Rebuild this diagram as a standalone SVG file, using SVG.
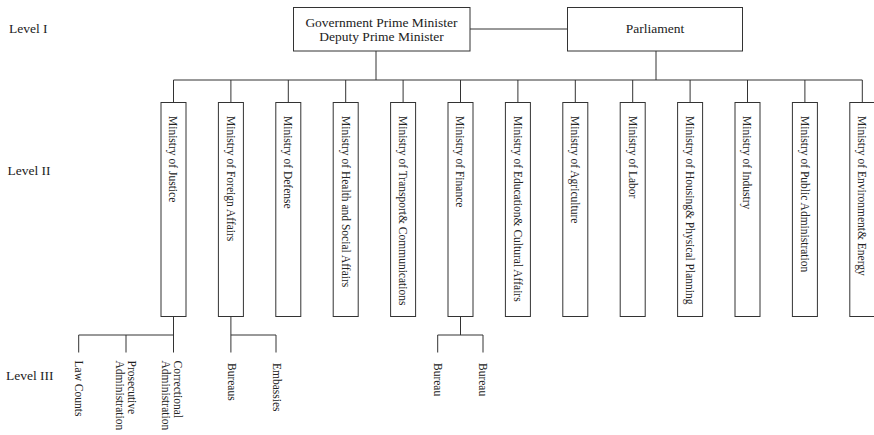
<svg xmlns="http://www.w3.org/2000/svg" width="874" height="435" viewBox="0 0 874 435">
  <style>
    .box { fill: #ffffff; stroke: #333333; stroke-width: 1; }
    .wire { fill: none; stroke: #333333; stroke-width: 1; }
    .t { font-family: "Liberation Serif", "Times New Roman", serif; fill: #222222; }
    .head { font-size: 13.5px; }
    .lvl { font-size: 13.5px; }
    .v { font-size: 11.5px; }
  </style>
  <rect width="874" height="435" fill="#ffffff"/>

  <!-- level captions -->
  <g id="levels">
    <text class="t lvl" x="9" y="33">Level I</text>
    <text class="t lvl" x="7.5" y="175">Level II</text>
    <text class="t lvl" x="6" y="380">Level III</text>
  </g>

  <!-- connectors -->
  <g id="connectors" class="wire">
    <path d="M470 29H567.5"/>
    <path d="M376 51V80M656 51V80"/>
    <path d="M173.5 80H862.3"/>
    <path d="M173.5 80V102.5M230.9 80V102.5M288.3 80V102.5M345.7 80V102.5M403.1 80V102.5M460.5 80V102.5M517.9 80V102.5M575.3 80V102.5M632.7 80V102.5M690.1 80V102.5M747.5 80V102.5M804.9 80V102.5M862.3 80V102.5"/>
    <!-- justice branches -->
    <path d="M173.5 316.5V335M78.7 335H173.5M78.7 335V352.5M126 335V352.5M173.5 335V352.5"/>
    <!-- foreign affairs branches -->
    <path d="M230.9 316.5V335M230.9 335H276M230.9 335V352.5M276 335V352.5"/>
    <!-- finance branches -->
    <path d="M460.5 316.5V335M437.7 335H483M437.7 335V352.5M483 335V352.5"/>
  </g>

  <!-- level I -->
  <g id="government">
    <rect class="box" x="293.5" y="7.5" width="176.5" height="43.5"/>
    <text class="t head" text-anchor="middle" x="381.5" y="27">Government Prime Minister</text>
    <text class="t head" text-anchor="middle" x="381.5" y="41">Deputy Prime Minister</text>
  </g>
  <g id="parliament">
    <rect class="box" x="567.5" y="7.5" width="175" height="43.5"/>
    <text class="t head" text-anchor="middle" x="655" y="33">Parliament</text>
  </g>

  <!-- level II ministries -->
  <g id="justice">
    <rect class="box" x="161" y="102.5" width="25" height="214"/>
    <text class="t v" transform="translate(169.3,116) rotate(90)">Ministry of Justice</text>
  </g>
  <g id="foreign-affairs">
    <rect class="box" x="218.4" y="102.5" width="25" height="214"/>
    <text class="t v" transform="translate(226.7,116) rotate(90)">Ministry of Foreign Affairs</text>
  </g>
  <g id="defense">
    <rect class="box" x="275.8" y="102.5" width="25" height="214"/>
    <text class="t v" transform="translate(284.1,116) rotate(90)">Ministry of Defense</text>
  </g>
  <g id="health">
    <rect class="box" x="333.2" y="102.5" width="25" height="214"/>
    <text class="t v" transform="translate(341.5,116) rotate(90)">Ministry of Health and Social Affairs</text>
  </g>
  <g id="transport">
    <rect class="box" x="390.6" y="102.5" width="25" height="214"/>
    <text class="t v" transform="translate(398.9,116) rotate(90)">Ministry of Transport&amp; Communications</text>
  </g>
  <g id="finance">
    <rect class="box" x="448" y="102.5" width="25" height="214"/>
    <text class="t v" transform="translate(456.3,116) rotate(90)">Ministry of Finance</text>
  </g>
  <g id="education">
    <rect class="box" x="505.4" y="102.5" width="25" height="214"/>
    <text class="t v" transform="translate(513.7,116) rotate(90)">Ministry of Education&amp; Cultural Affairs</text>
  </g>
  <g id="agriculture">
    <rect class="box" x="562.8" y="102.5" width="25" height="214"/>
    <text class="t v" transform="translate(571.1,116) rotate(90)">Ministry of Agriculture</text>
  </g>
  <g id="labor">
    <rect class="box" x="620.2" y="102.5" width="25" height="214"/>
    <text class="t v" transform="translate(628.5,116) rotate(90)">Ministry of Labor</text>
  </g>
  <g id="housing">
    <rect class="box" x="677.6" y="102.5" width="25" height="214"/>
    <text class="t v" transform="translate(685.9,116) rotate(90)">Ministry of Housing&amp; Physical Planning</text>
  </g>
  <g id="industry">
    <rect class="box" x="735" y="102.5" width="25" height="214"/>
    <text class="t v" transform="translate(743.3,116) rotate(90)">Ministry of Industry</text>
  </g>
  <g id="public-administration">
    <rect class="box" x="792.4" y="102.5" width="25" height="214"/>
    <text class="t v" transform="translate(800.7,116) rotate(90)">Ministry of Public Administration</text>
  </g>
  <g id="environment">
    <rect class="box" x="849.8" y="102.5" width="25" height="214"/>
    <text class="t v" transform="translate(858.1,116) rotate(90)">Ministry of Environment&amp; Energy</text>
  </g>

  <!-- level III units -->
  <g id="law-courts">
    <text class="t v" transform="translate(74.5,360.5) rotate(90)">Law Counts</text>
  </g>
  <g id="prosecutive">
    <text class="t v" transform="translate(127.8,360.5) rotate(90)"><tspan x="0" y="0">Prosecutive</tspan><tspan x="0" y="12">Administration</tspan></text>
  </g>
  <g id="correctional">
    <text class="t v" transform="translate(174.2,360.5) rotate(90)"><tspan x="0" y="0">Correctional</tspan><tspan x="0" y="12">Administration</tspan></text>
  </g>
  <g id="bureaus">
    <text class="t v" transform="translate(227.7,363) rotate(90)">Bureaus</text>
  </g>
  <g id="embassies">
    <text class="t v" transform="translate(272.5,363) rotate(90)">Embassies</text>
  </g>
  <g id="bureau-1">
    <text class="t v" transform="translate(433.5,363) rotate(90)">Bureau</text>
  </g>
  <g id="bureau-2">
    <text class="t v" transform="translate(479,363) rotate(90)">Bureau</text>
  </g>
</svg>
